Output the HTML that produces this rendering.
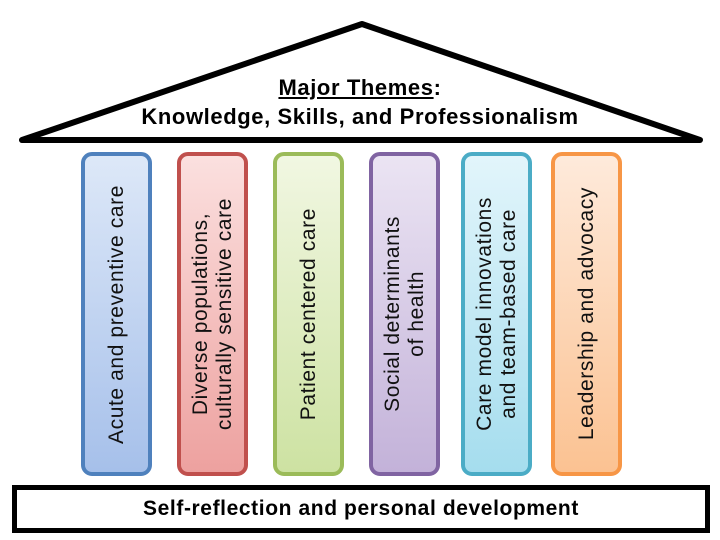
<!DOCTYPE html>
<html><head><meta charset="utf-8"><style>
body{margin:0;width:720px;height:540px;background:#fff;position:relative;overflow:hidden;font-family:"Liberation Sans",sans-serif;}
.p{position:absolute;top:152px;width:63px;height:316px;border:4px solid;border-radius:11px;display:flex;align-items:center;justify-content:center;}
.p span{writing-mode:vertical-rl;transform:rotate(180deg);font-size:21px;line-height:24px;text-align:center;color:#111;white-space:nowrap;letter-spacing:0.6px}
.base{position:absolute;left:12px;top:485px;width:688px;height:38px;border:5px solid #000;display:flex;align-items:center;justify-content:center;font-weight:bold;font-size:21px;letter-spacing:0.6px}
.title{position:absolute;left:0;width:720px;text-align:center;font-weight:bold;font-size:22px;letter-spacing:0.6px}
</style></head><body>
<svg width="720" height="540" style="position:absolute;left:0;top:0">
<polygon points="362,24 22,140 700,140" fill="#fff" stroke="#000" stroke-width="6" stroke-linejoin="round"/>
</svg>
<div class="title" style="top:75px"><u>Major Themes</u>:</div>
<div class="title" style="top:104px">Knowledge, Skills, and Professionalism</div>
<div class="p" style="left:81px;border-color:#4f81bd;background:linear-gradient(#dde8f8,#a6c0ea)"><span>Acute and preventive care</span></div>
<div class="p" style="left:177px;border-color:#c0504d;background:linear-gradient(#fbe0df,#eda19f)"><span>Diverse populations,<br>culturally sensitive care</span></div>
<div class="p" style="left:273px;border-color:#9bbb59;background:linear-gradient(#f1f7e2,#cde2a2)"><span>Patient centered care</span></div>
<div class="p" style="left:369px;border-color:#8064a2;background:linear-gradient(#ebe4f3,#c3b2d9)"><span>Social determinants<br>of health</span></div>
<div class="p" style="left:461px;border-color:#4bacc6;background:linear-gradient(#e2f5fb,#a5ddee)"><span>Care model innovations<br>and team-based care</span></div>
<div class="p" style="left:551px;border-color:#f79646;background:linear-gradient(#feeadb,#fbc292)"><span>Leadership and advocacy</span></div>
<div class="base">Self-reflection and personal development</div>
</body></html>
